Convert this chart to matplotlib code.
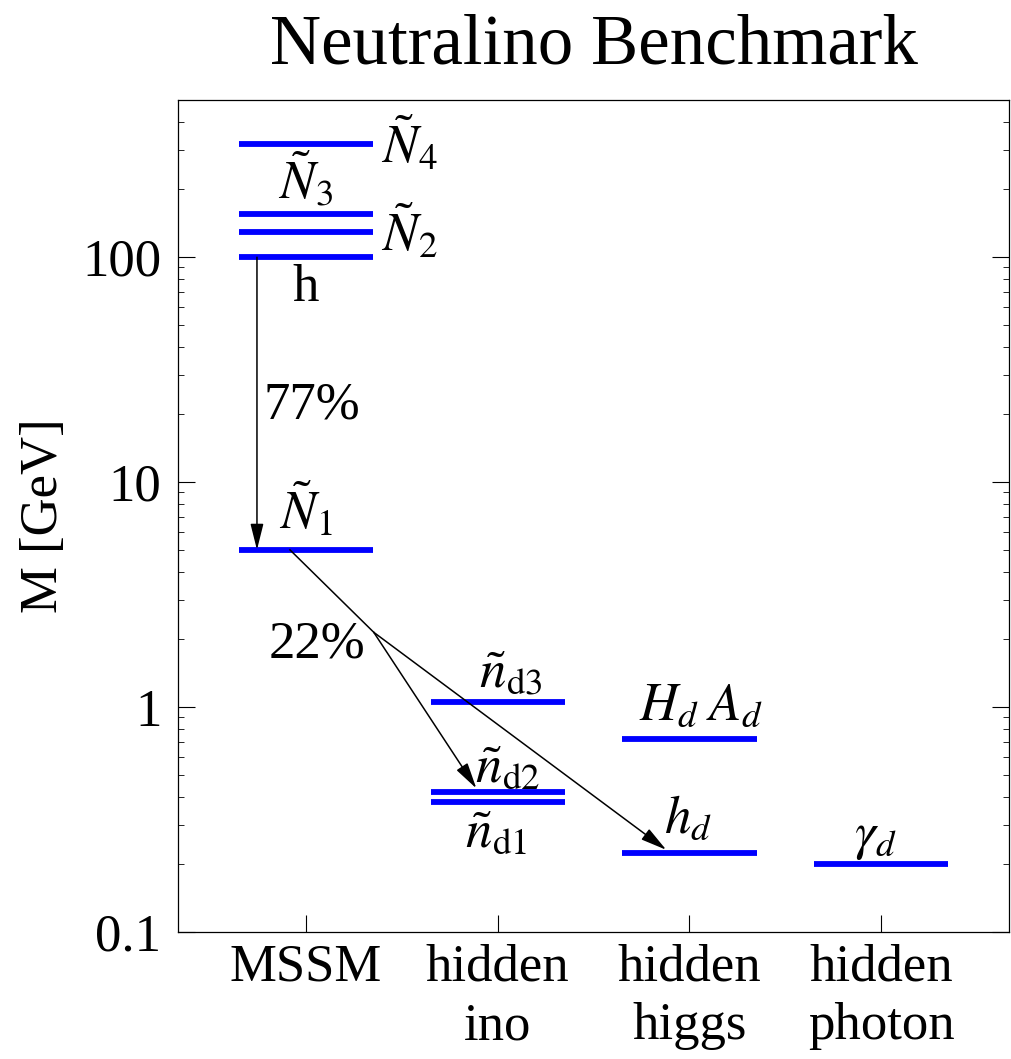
import matplotlib
matplotlib.use('Agg')
import matplotlib.pyplot as plt
import numpy as np

# spectrum (GeV), one list per column
columns = ['MSSM', 'hidden\nino', 'hidden\nhiggs', 'hidden\nphoton']
mssm_masses = [320, 155, 130, 100, 5.0]
ino_masses = [1.05, 0.42, 0.38]
higgs_masses = [0.72, 0.224]
photon_masses = [0.2]
branching = ['77%', '22%']

plt.rcParams['font.family'] = 'serif'
plt.rcParams['font.serif'] = ['Liberation Serif', 'DejaVu Serif']
plt.rcParams['mathtext.fontset'] = 'stix'

fig = plt.figure(figsize=(10.12, 10.59), dpi=100)
ax = fig.add_axes([0.1759, 0.1199, 0.8212, 0.7857])

half = 0.35
blue = '#0000ff'
for i, masses in enumerate([mssm_masses, ino_masses, higgs_masses, photon_masses]):
    x = i + 1
    for m in masses:
        ax.plot([x - half, x + half], [m, m], color=blue, lw=4.2, solid_capstyle='butt')

ax.set_yscale('log')
ax.set_ylim(0.1, 500)
ax.set_xlim(1/3, 14/3)
ax.set_xticks([1, 2, 3, 4])
ax.set_xticklabels(columns, fontsize=38, linespacing=1.3)
ax.set_yticks([0.1, 1, 10, 100])
ax.set_yticklabels(['0.1', '1', '10', '100'], fontsize=38)
ax.tick_params(axis='y', which='major', direction='in', length=12, width=0.8, right=True, pad=12)
ax.tick_params(axis='y', which='minor', direction='in', length=4, width=0.6, right=True)
ax.tick_params(axis='x', which='major', direction='in', length=12, width=0.8, pad=8)
ax.tick_params(axis='x', which='minor', bottom=False)
for s in ax.spines.values():
    s.set_linewidth(0.9)
ax.set_ylabel('M [GeV]', fontsize=38, labelpad=10)
ax.set_title('Neutralino Benchmark', fontsize=51, pad=26)

fs = 38
# level labels
ax.text(1.39, mssm_masses[0], r'$\tilde{N}_4$', fontsize=fs, ha='left', va='center')
ax.text(1.0, 220, r'$\tilde{N}_3$', fontsize=fs, ha='center', va='center')
ax.text(1.39, mssm_masses[2], r'$\tilde{N}_2$', fontsize=fs, ha='left', va='center')
ax.text(1.0, 73, 'h', fontsize=fs, ha='center', va='center')
ax.text(1.0, 7.5, r'$\tilde{N}_1$', fontsize=fs, ha='center', va='center')
ax.text(2.07, 1.39, r'$\tilde{n}_{\rm d3}$', fontsize=fs, ha='center', va='center')
ax.text(2.05, 0.525, r'$\tilde{n}_{\rm d2}$', fontsize=fs, ha='center', va='center')
ax.text(1.99, 0.27, r'$\tilde{n}_{\rm d1}$', fontsize=fs, ha='center', va='center')
ax.text(3.06, 1.0, r'$H_d\;A_d$', fontsize=fs, ha='center', va='center')
ax.text(2.99, 0.315, r'$h_d$', fontsize=fs, ha='center', va='center')
ax.text(3.97, 0.262, r'$\gamma_d$', fontsize=fs, ha='center', va='center')

# decays
ax.text(1.03, 22, branching[0], fontsize=fs, ha='center', va='center')
ax.text(1.06, 1.89, branching[1], fontsize=fs, ha='center', va='center')

aprops = dict(arrowstyle='-|>,head_length=1.6,head_width=0.4', color='black', lw=1.1,
              shrinkA=0, shrinkB=0)
ax.annotate('', xy=(0.745, mssm_masses[4]), xytext=(0.745, mssm_masses[3]), arrowprops=aprops)
branch = (1.354, 2.15)
ax.plot([0.917, branch[0]], [mssm_masses[4], branch[1]], color='black', lw=1.1)
ax.annotate('', xy=(1.889, 0.435), xytext=branch, arrowprops=aprops)
ax.annotate('', xy=(2.879, 0.232), xytext=branch, arrowprops=aprops)

fig.savefig('out.png', dpi=100)
